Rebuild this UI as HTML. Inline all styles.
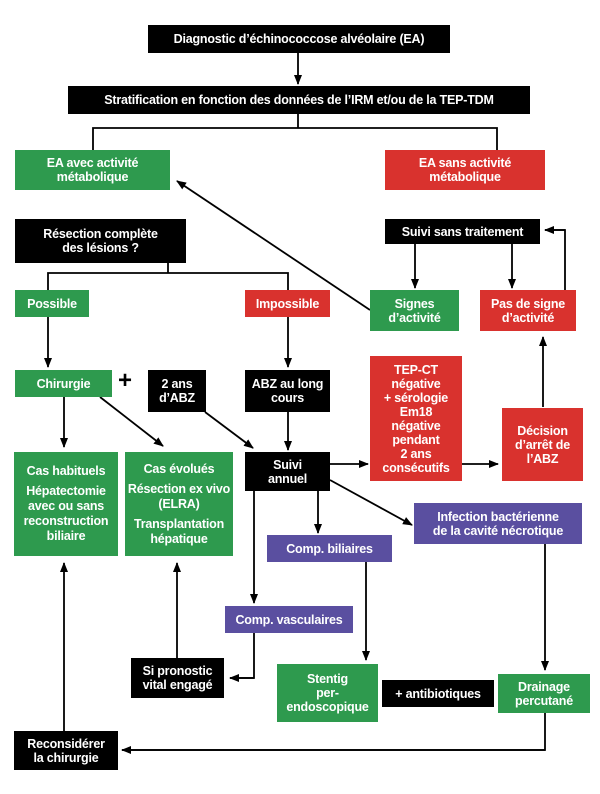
<!DOCTYPE html>
<html><head><meta charset="utf-8"><style>
body{margin:0;width:600px;height:794px;background:#fff;position:relative;overflow:hidden;font-family:"Liberation Sans",sans-serif;}
.b{position:absolute;display:flex;align-items:center;justify-content:center;text-align:center;color:#fff;font-weight:bold;font-size:12.5px;line-height:14px;letter-spacing:-0.2px;box-sizing:border-box;}
.k{background:#000}.g{background:#2e9a4e}.r{background:#d9322e}.p{background:#5a4fa0}
svg{position:absolute;left:0;top:0}
.sp{height:5px}
</style></head><body>
<svg width="600" height="794">
<defs><marker id="a" markerWidth="10" markerHeight="10" refX="9" refY="5" orient="auto" markerUnits="userSpaceOnUse"><path d="M0,1 L10,5 L0,9 z" fill="#000"/></marker></defs>
<g stroke="#000" stroke-width="1.8" fill="none">
<line x1="298" y1="53" x2="298" y2="84" marker-end="url(#a)"/>
<polyline points="298,114 298,128"/>
<polyline points="93,150 93,128 497,128 497,150"/>
<line x1="370" y1="310" x2="177" y2="181" marker-end="url(#a)"/>
<polyline points="168,255 168,273"/>
<polyline points="48,290 48,273 288,273 288,290"/>
<line x1="415" y1="243" x2="415" y2="288" marker-end="url(#a)"/>
<line x1="512" y1="243" x2="512" y2="288" marker-end="url(#a)"/>
<polyline points="565,290 565,230 545,230" />
<line x1="565" y1="230" x2="545" y2="230" marker-end="url(#a)"/>
<line x1="48" y1="317" x2="48" y2="367" marker-end="url(#a)"/>
<line x1="288" y1="317" x2="288" y2="367" marker-end="url(#a)"/>
<line x1="64" y1="397" x2="64" y2="447" marker-end="url(#a)"/>
<line x1="100" y1="397" x2="163" y2="446" marker-end="url(#a)"/>
<line x1="205" y1="412" x2="253" y2="448" marker-end="url(#a)"/>
<line x1="288" y1="412" x2="288" y2="450" marker-end="url(#a)"/>
<line x1="330" y1="464" x2="368" y2="464" marker-end="url(#a)"/>
<line x1="462" y1="464" x2="498" y2="464" marker-end="url(#a)"/>
<line x1="543" y1="407" x2="543" y2="337" marker-end="url(#a)"/>
<line x1="254" y1="490" x2="254" y2="603" marker-end="url(#a)"/>
<line x1="318" y1="490" x2="318" y2="533" marker-end="url(#a)"/>
<line x1="330" y1="480" x2="412" y2="525" marker-end="url(#a)"/>
<polyline points="254,633 254,678 230,678"/>
<line x1="254" y1="678" x2="230" y2="678" marker-end="url(#a)"/>
<line x1="177" y1="658" x2="177" y2="563" marker-end="url(#a)"/>
<line x1="366" y1="562" x2="366" y2="660" marker-end="url(#a)"/>
<line x1="545" y1="544" x2="545" y2="670" marker-end="url(#a)"/>
<polyline points="545,712 545,750 122,750"/>
<line x1="545" y1="750" x2="122" y2="750" marker-end="url(#a)"/>
<line x1="64" y1="731" x2="64" y2="563" marker-end="url(#a)"/>
</g></svg>
<div class="b k" style="left:148px;top:25px;width:302px;height:28px">Diagnostic d’échinococcose alvéolaire (EA)</div>
<div class="b k" style="left:68px;top:86px;width:462px;height:28px">Stratification en fonction des données de l’IRM et/ou de la TEP-TDM</div>
<div class="b g" style="left:15px;top:150px;width:155px;height:40px">EA avec activité<br>métabolique</div>
<div class="b r" style="left:385px;top:150px;width:160px;height:40px">EA sans activité<br>métabolique</div>
<div class="b k" style="left:15px;top:219px;width:171px;height:44px">Résection complète<br>des lésions ?</div>
<div class="b k" style="left:385px;top:219px;width:155px;height:25px">Suivi sans traitement</div>
<div class="b g" style="left:15px;top:290px;width:74px;height:27px">Possible</div>
<div class="b r" style="left:245px;top:290px;width:85px;height:27px">Impossible</div>
<div class="b g" style="left:370px;top:290px;width:89px;height:41px">Signes<br>d’activité</div>
<div class="b r" style="left:480px;top:290px;width:96px;height:41px">Pas de signe<br>d’activité</div>
<div class="b g" style="left:15px;top:370px;width:97px;height:27px">Chirurgie</div>
<div style="position:absolute;left:118px;top:367px;font:bold 24px 'Liberation Sans',sans-serif">+</div>
<div class="b k" style="left:148px;top:370px;width:58px;height:42px">2 ans<br>d’ABZ</div>
<div class="b k" style="left:245px;top:370px;width:85px;height:42px">ABZ au long<br>cours</div>
<div class="b r" style="left:370px;top:356px;width:92px;height:125px">TEP-CT<br>négative<br>+ sérologie<br>Em18<br>négative<br>pendant<br>2 ans<br>consécutifs</div>
<div class="b r" style="left:502px;top:408px;width:81px;height:73px">Décision<br>d’arrêt de<br>l’ABZ</div>
<div class="b k" style="left:245px;top:452px;width:85px;height:39px">Suivi<br>annuel</div>
<div class="b g" style="left:14px;top:452px;width:104px;height:104px;line-height:15px"><div>Cas habituels<div class="sp"></div>Hépatectomie<br>avec ou sans<br>reconstruction<br>biliaire</div></div>
<div class="b g" style="left:125px;top:452px;width:108px;height:104px;line-height:15px"><div>Cas évolués<div class="sp"></div>Résection ex vivo<br>(ELRA)<div class="sp"></div>Transplantation<br>hépatique</div></div>
<div class="b p" style="left:414px;top:503px;width:168px;height:41px">Infection bactérienne<br>de la cavité nécrotique</div>
<div class="b p" style="left:267px;top:535px;width:125px;height:27px">Comp. biliaires</div>
<div class="b p" style="left:225px;top:606px;width:128px;height:27px">Comp. vasculaires</div>
<div class="b k" style="left:131px;top:658px;width:93px;height:40px">Si pronostic<br>vital engagé</div>
<div class="b g" style="left:277px;top:664px;width:101px;height:58px">Stentig<br>per-<br>endoscopique</div>
<div class="b k" style="left:382px;top:680px;width:112px;height:27px">+ antibiotiques</div>
<div class="b g" style="left:498px;top:674px;width:92px;height:39px">Drainage<br>percutané</div>
<div class="b k" style="left:14px;top:731px;width:104px;height:39px">Reconsidérer<br>la chirurgie</div>
</body></html>
